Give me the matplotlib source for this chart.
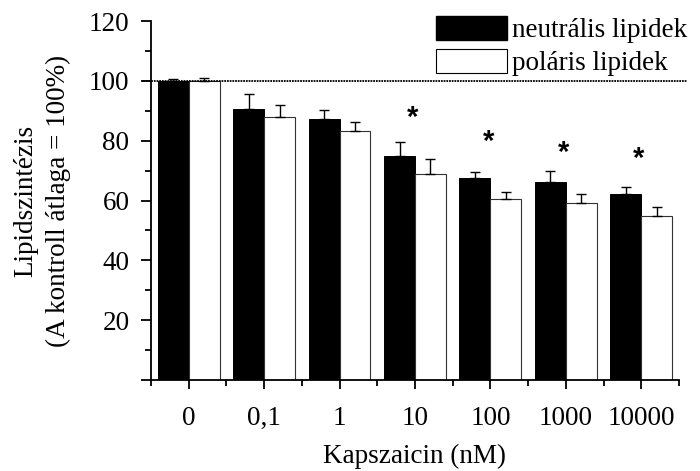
import numpy as np
import matplotlib as mpl
mpl.use("Agg")
import matplotlib.pyplot as plt
from matplotlib.patches import Patch

fontsize = 19.5
mpl.rcParams['font.family'] = 'Liberation Serif'
mpl.rcParams['font.size'] = fontsize

categories = ["0", "0,1", "1", "10", "100", "1000", "10000"]
neutral = [100, 90.7, 87.3, 75.0, 67.5, 66.2, 62.1]
neutral_err = [0.6, 4.8, 3.0, 4.5, 2.0, 3.7, 2.5]
polar = [100, 87.9, 83.4, 68.9, 60.4, 59.1, 54.9]
polar_err = [1.0, 4.1, 3.0, 4.9, 2.4, 3.0, 3.0]
star_idx = [3, 4, 5, 6]
star_y = [87.5, 79.5, 76.0, 74.0]

x = np.arange(len(categories))
w = 0.41

fig = plt.figure(figsize=(7.0, 4.71), dpi=100)
ax = fig.add_axes([0.2157, 0.1932, 0.97 - 0.2157, 0.955 - 0.1932])

ax.bar(x - w/2, neutral, w, color='black', edgecolor='black', linewidth=0.7,
       yerr=[np.zeros(len(x)), neutral_err], error_kw=dict(ecolor='black', elinewidth=1.0, capsize=3.5, capthick=1.0))
ax.bar(x + w/2, polar, w, color='white', edgecolor='#333333', linewidth=0.8,
       yerr=[np.zeros(len(x)), polar_err], error_kw=dict(ecolor='black', elinewidth=1.0, capsize=3.5, capthick=1.0))

ax.axhline(100, xmin=-0.015, xmax=1.015, color='black', ls=(0, (1, 0.5)), lw=1.3, clip_on=False, zorder=5)

for i, yv in zip(star_idx, star_y):
    ax.text(x[i] - 0.03, yv, "*", ha='center', va='center', fontsize=21,
            family='Liberation Sans', fontweight='bold')

ax.set_xlim(-0.5, 6.5)
ax.set_ylim(0, 120)
ax.spines['top'].set_visible(False)
ax.spines['right'].set_visible(False)
for s in ['left', 'bottom']:
    ax.spines[s].set_linewidth(1.3)

ax.set_xticks(x)
ax.set_xticklabels(categories)
ax.set_xticks(np.arange(-0.5, 7.0, 1.0), minor=True)
ax.set_yticks(np.arange(0, 121, 20))
ax.set_yticklabels([""] + [str(v) for v in range(20, 121, 20)])
ax.set_yticks(np.arange(10, 120, 20), minor=True)
ax.tick_params(axis='x', which='major', length=6.5, width=1.3, pad=12.5, direction='out')
ax.tick_params(axis='x', which='minor', length=4, width=1.3, direction='out')
ax.tick_params(axis='y', which='major', length=7.5, width=1.3, pad=8, direction='out')
ax.tick_params(axis='y', which='minor', length=4.3, width=1.3, direction='out')

ax.set_xlabel("Kapszaicin (nM)", labelpad=9)
ax.set_ylabel("Lipidszintézis\n(A kontroll átlaga = 100%)", linespacing=1.4, labelpad=13)

handles = [Patch(facecolor='black', edgecolor='black', label='neutrális lipidek'),
           Patch(facecolor='white', edgecolor='black', linewidth=0.8, label='poláris lipidek')]
leg = ax.legend(handles=handles, loc='upper right', bbox_to_anchor=(1.016, 1.015),
                frameon=False, handlelength=2.6, handleheight=1.0, handletextpad=0.2,
                labelspacing=0.2, borderaxespad=0, borderpad=0)

fig.savefig("out.png", dpi=100)
